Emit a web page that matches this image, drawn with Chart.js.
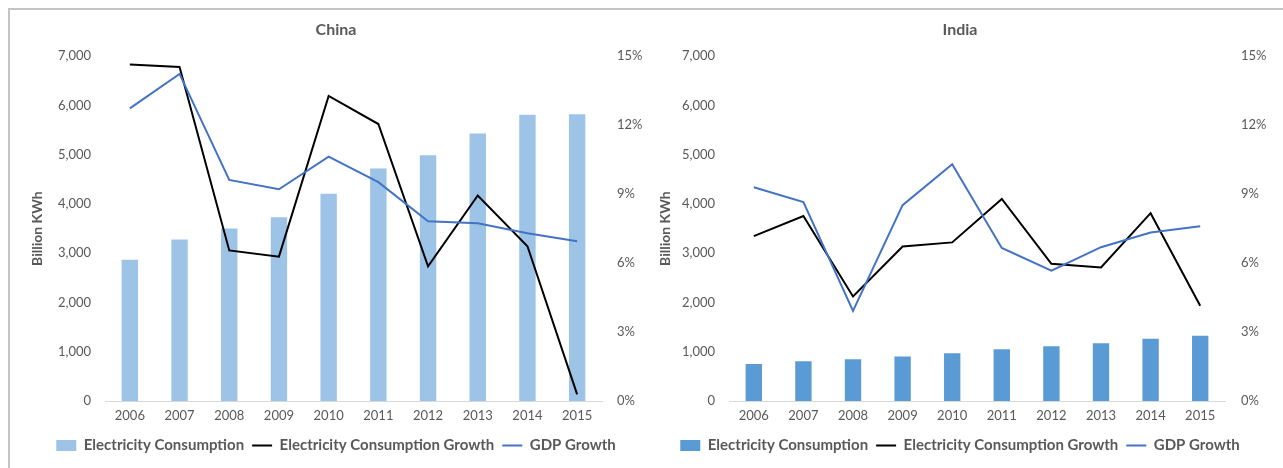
<!DOCTYPE html>
<html>
<head>
<meta charset="utf-8">
<script src="https://cdn.jsdelivr.net/npm/chart.js@4/dist/chart.umd.min.js"></script>
<style>
  body { margin: 0; background: #fff; width: 1283px; height: 468px; overflow: hidden; position: relative; }
  .frame { position: absolute; left: 8px; top: 8px; right: 0; bottom: 0; border-top: 2px solid #c4c4c4; border-left: 2px solid #c4c4c4; }
  .box { position: absolute; top: 10px; height: 458px; }
  #china-box { left: 10px; width: 640px; }
  #india-box { left: 650px; width: 633px; }
</style>
</head>
<body>
<div class="frame"></div>
<div class="box" id="china-box"><canvas id="china-chart"></canvas></div>
<div class="box" id="india-box"><canvas id="india-chart"></canvas></div>
<script>
/**
 * Data
 */
const years = ['2006', '2007', '2008', '2009', '2010', '2011', '2012', '2013', '2014', '2015'];

const chinaConsumption = [2870, 3280, 3500, 3730, 4210, 4720, 4990, 5430, 5810, 5820];
const chinaConsumptionGrowth = [14.64, 14.53, 6.55, 6.28, 13.27, 12.05, 5.86, 8.94, 6.73, 0.29];
const chinaGdpGrowth = [12.73, 14.23, 9.62, 9.21, 10.63, 9.52, 7.82, 7.73, 7.3, 6.95];

const indiaConsumption = [753, 808, 848, 902, 970, 1051, 1113, 1174, 1262, 1323];
const indiaConsumptionGrowth = [7.17, 8.05, 4.55, 6.72, 6.90, 8.79, 5.97, 5.81, 8.17, 4.14];
const indiaGdpGrowth = [9.30, 8.65, 3.92, 8.52, 10.30, 6.66, 5.67, 6.69, 7.33, 7.60];

/**
 * Methods
 */
const FONT = 'Lato, "Liberation Sans", sans-serif';
const GREY = '#595959';

const createChart = (canvasId, title, barColor, consumption, elecGrowth, gdpGrowth, layout) => {
  const ctx = document.getElementById(canvasId).getContext('2d');

  return new Chart(ctx, {
    data: {
      labels: years,
      datasets: [
        {
          type: 'bar',
          label: 'Electricity Consumption',
          data: consumption,
          backgroundColor: barColor,
          borderWidth: 0,
          barPercentage: 0.33,
          categoryPercentage: 1,
          pointStyle: 'rect',
          yAxisID: 'y',
          order: 3
        },
        {
          type: 'line',
          label: 'Electricity Consumption Growth',
          data: elecGrowth,
          borderColor: '#000000',
          borderWidth: 2,
          pointRadius: 0,
          pointStyle: 'line',
          tension: 0,
          fill: false,
          yAxisID: 'y1',
          order: 2
        },
        {
          type: 'line',
          label: 'GDP Growth',
          data: gdpGrowth,
          borderColor: '#4472C4',
          borderWidth: 2,
          pointRadius: 0,
          pointStyle: 'line',
          tension: 0,
          fill: false,
          yAxisID: 'y1',
          order: 1
        }
      ]
    },
    options: {
      responsive: true,
      maintainAspectRatio: false,
      animation: false,
      layout: { padding: { left: layout.padLeft, right: layout.padRight, top: 0, bottom: 5 } },
      plugins: {
        tooltip: { enabled: false },
        title: {
          display: true,
          text: title,
          color: GREY,
          font: { family: FONT, size: 16, weight: 'bold' },
          padding: { top: 10, bottom: 17 }
        },
        legend: {
          position: 'bottom',
          labels: {
            usePointStyle: true,
            pointStyleWidth: 20,
            boxHeight: 11,
            padding: 8,
            color: GREY,
            font: { family: FONT, size: 15, weight: 'bold' },
            sort: (a, b) => a.datasetIndex - b.datasetIndex
          }
        }
      },
      scales: {
        x: {
          grid: { display: false, drawTicks: false },
          border: { display: true, color: '#d9d9d9', width: 1 },
          ticks: { color: GREY, font: { family: FONT, size: 13 }, padding: 7, maxRotation: 0 },
          afterFit: (scale) => { scale.height = 29; }
        },
        y: {
          position: 'left',
          min: 0,
          max: 7000,
          grid: { display: false, drawTicks: false },
          border: { display: false },
          ticks: {
            stepSize: 1000,
            color: GREY,
            padding: 14,
            font: { family: FONT, size: 13 },
            callback: (v) => v.toLocaleString('en-US')
          },
          title: {
            display: true,
            text: 'Billion KWh',
            color: GREY,
            font: { family: FONT, size: 14, weight: 'bold' },
            padding: { top: 7, bottom: 0 }
          },
          afterFit: (scale) => { scale.width = layout.leftWidth; }
        },
        y1: {
          position: 'right',
          min: 0,
          max: 15,
          grid: { display: false, drawTicks: false },
          border: { display: false },
          ticks: {
            stepSize: 3,
            color: GREY,
            padding: layout.rightPad,
            font: { family: FONT, size: 13 },
            callback: (v) => v + '%'
          },
          afterFit: (scale) => { scale.width = layout.rightWidth; }
        }
      }
    }
  });
};

/**
 * Events
 */
document.addEventListener('DOMContentLoaded', () => {
  createChart('china-chart', 'China', '#9DC3E6', chinaConsumption, chinaConsumptionGrowth, chinaGdpGrowth,
    { padLeft: 12, padRight: 0, leftWidth: 83, rightWidth: 48, rightPad: 15 });
  createChart('india-chart', 'India', '#5B9BD5', indiaConsumption, indiaConsumptionGrowth, indiaGdpGrowth,
    { padLeft: 0, padRight: 13, leftWidth: 79, rightWidth: 45, rightPad: 16 });
});
</script>
</body>
</html>
